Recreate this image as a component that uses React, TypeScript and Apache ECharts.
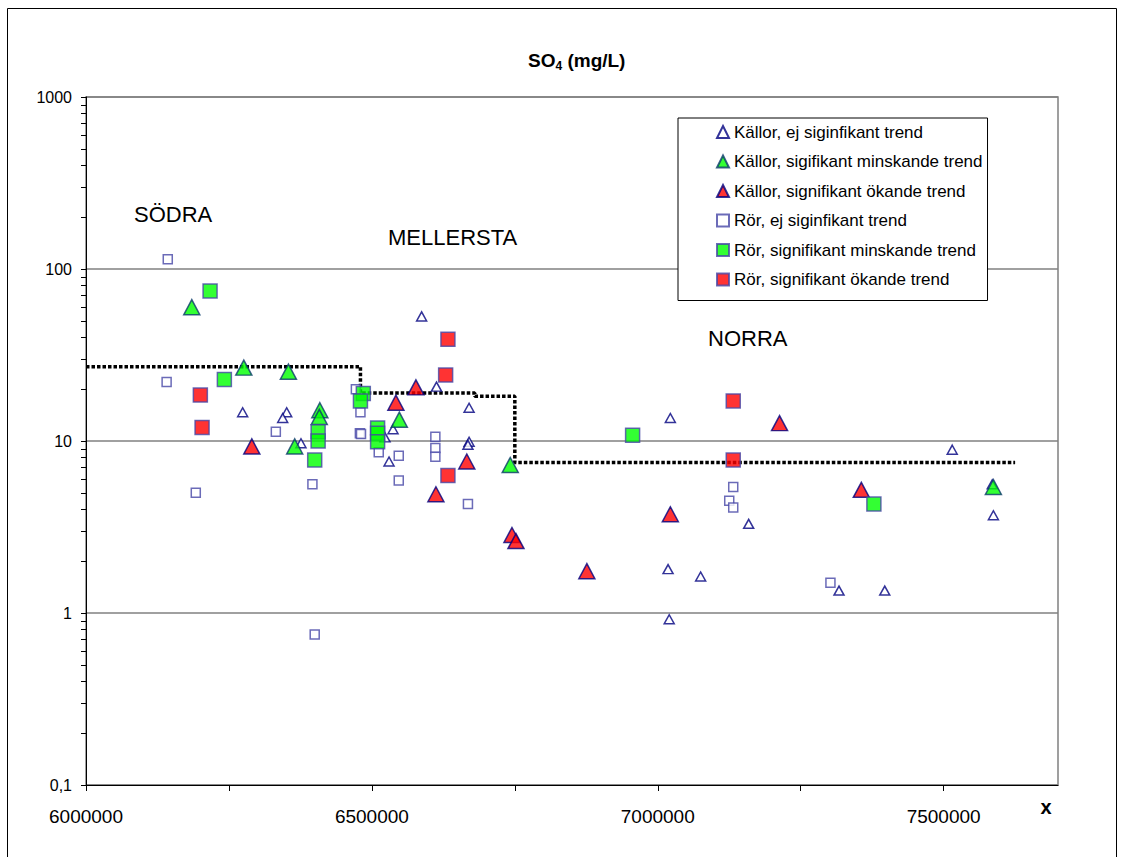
import React, { useEffect, useRef } from 'react';
import * as echarts from 'echarts';

const FONT = 'Arial, "Liberation Sans", sans-serif';

const seriesNames = [
  'Källor, ej siginfikant trend',
  'Källor, sigifikant minskande trend',
  'Källor, signifikant ökande trend',
  'Rör, ej siginfikant trend',
  'Rör, signifikant minskande trend',
  'Rör, signifikant ökande trend',
];

// [x coordinate, SO4 mg/L]
const kallorEj: [number, number][] = [
  [6274000, 14.7], [6351000, 14.7], [6344000, 13.6], [6376000, 9.7], [6523000, 10.5],
  [6537000, 11.7], [6530000, 7.6], [6587000, 53], [6613000, 20.7], [6670000, 15.6],
  [6670000, 9.9], [6668000, 9.5], [7022000, 13.6], [7018000, 1.8], [7020000, 0.92],
  [7075000, 1.63], [7159000, 3.3], [7317000, 1.35], [7397000, 1.35], [7515000, 8.9],
  [7587000, 3.7], [7585000, 5.6],
];
const kallorMinsk: [number, number][] = [
  [6185000, 60], [6276000, 26.7], [6354000, 25.3], [6365000, 9.3], [6409000, 15.1],
  [6408000, 13.8], [6548000, 13.3], [6742000, 7.25], [7587000, 5.4],
];
const kallorOk: [number, number][] = [
  [6290000, 9.3], [6542000, 16.7], [6577000, 20.5], [6612000, 4.9], [6666000, 7.6],
  [6745000, 2.84], [6752000, 2.62], [6876000, 1.75], [7022000, 3.75], [7213000, 12.7],
  [7356000, 5.2],
];
const rorEj: [number, number][] = [
  [6143000, 114], [6141000, 22], [6192000, 5.0], [6332000, 11.3], [6396000, 5.6],
  [6400000, 0.75], [6472000, 20], [6480000, 14.7], [6479000, 11.1], [6481000, 11.0],
  [6512000, 8.6], [6547000, 8.2], [6547000, 5.9], [6611000, 10.6], [6611000, 9.1],
  [6611000, 8.1], [6668000, 4.3], [7132000, 5.4], [7125000, 4.5], [7132000, 4.1],
  [7302000, 1.5],
];
const rorMinsk: [number, number][] = [
  [6217000, 74.5], [6242000, 22.8], [6406000, 11.3], [6406000, 10.0], [6400000, 7.75],
  [6485000, 18.9], [6480000, 17.1], [6510000, 11.9], [6510000, 11.1], [6510000, 9.9],
  [6956000, 10.8], [7378000, 4.3],
];
const rorOk: [number, number][] = [
  [6200000, 18.5], [6203000, 12.0], [6633000, 39], [6629000, 24.2], [6633000, 6.3],
  [7132000, 17.1], [7132000, 7.75],
];

// dotted regional median line
const trendX = [6000000, 6480000, 6480000, 6680000, 6680000, 6750000, 6750000, 7625000];
const trendY = [27, 27, 19, 19, 18.2, 18.2, 7.5, 7.5];

const xTickValues = [6000000, 6250000, 6500000, 6750000, 7000000, 7250000, 7500000];
const xLabelValues = [6000000, 6500000, 7000000, 7500000];
const yLabelValues = [0.1, 1, 10, 100, 1000];
const yTickValues: number[] = [];
[0.1, 1, 10, 100].forEach((d) => {
  for (let m = 1; m <= 9; m++) yTickValues.push(+(d * m).toPrecision(3));
});
yTickValues.push(1000);

const regionLabels = [
  { text: 'SÖDRA', x: 134, y: 214 },
  { text: 'MELLERSTA', x: 388, y: 237 },
  { text: 'NORRA', x: 708, y: 338 },
];

export default function App() {
  const ref = useRef<HTMLDivElement>(null);
  useEffect(() => {
    document.body.style.margin = '0';
    const chart = echarts.init(ref.current!, null, { renderer: 'svg' });
    const navy = '#000080';
    const sqStroke = '#4646a6';
    const option: any = {
      animation: false,
      backgroundColor: '#fff',
      title: {
        text: '{a|SO}{b|4}{a| (mg/L)}',
        left: 523,
        top: 43,
        textStyle: {
          rich: {
            a: { fontSize: 19, fontWeight: 'bold', fontFamily: FONT, color: '#000', lineHeight: 24 },
            b: { fontSize: 12, fontWeight: 'bold', fontFamily: FONT, color: '#000', verticalAlign: 'bottom', lineHeight: 18 },
          },
        },
      },
      legend: {
        orient: 'vertical',
        left: 678,
        top: 118,
        padding: [5, 5, 12, 38],
        itemGap: 11.5,
        itemWidth: 12,
        itemHeight: 12,
        borderColor: '#000',
        borderWidth: 1,
        backgroundColor: '#fff',
        textStyle: { fontSize: 17, fontFamily: FONT, color: '#000', lineHeight: 18 },
        data: seriesNames,
      },
      grid: {
        left: 86,
        right: 65,
        top: 97,
        bottom: 72,
        show: true,
        borderColor: '#808080',
        borderWidth: 1.5,
        backgroundColor: 'transparent',
      },
      xAxis: {
        type: 'value',
        min: 6000000,
        max: 7700000,
        interval: 250000,
        axisLine: { show: true, lineStyle: { color: '#000', width: 1 } },
        axisTick: { show: true, length: 6, lineStyle: { color: '#000' }, customValues: xTickValues },
        axisLabel: {
          customValues: xLabelValues,
          formatter: (v: number) => (v % 500000 === 0 ? String(v) : ''),
          fontSize: 19,
          fontFamily: FONT,
          color: '#000',
          margin: 22,
        },
        splitLine: { show: false },
        name: 'x',
        nameLocation: 'end',
        nameGap: -12,
        nameTextStyle: {
          fontSize: 20,
          fontWeight: 'bold',
          fontFamily: FONT,
          color: '#000',
          align: 'center',
          verticalAlign: 'top',
          padding: [12, 0, 0, 0],
        },
      },
      yAxis: [
        {
          type: 'log',
          logBase: 10,
          min: 0.1,
          max: 1000,
          axisLine: { show: true, lineStyle: { color: '#000', width: 1 } },
          axisTick: { show: true, length: 5, lineStyle: { color: '#000' }, customValues: yTickValues },
          axisLabel: {
            customValues: yLabelValues,
            formatter: (v: number) => (v < 1 ? String(v).replace('.', ',') : String(v)),
            fontSize: 16,
            fontFamily: FONT,
            color: '#000',
            margin: 14,
          },
          splitLine: { show: false },
        },
        {
          type: 'log',
          logBase: 10,
          min: 0.1,
          max: 1000,
          position: 'left',
          axisLine: { show: false },
          axisTick: { show: false },
          axisLabel: { show: false },
          splitLine: { show: true, lineStyle: { color: '#808080', width: 1.5 } },
        },
      ],
      graphic: [
        {
          type: 'rect',
          silent: true,
          z: -10,
          shape: { x: 7.5, y: 8.5, width: 1109, height: 900 },
          style: { fill: 'none', stroke: '#000', lineWidth: 1 },
        },
        ...regionLabels.map((r) => ({
          type: 'text',
          x: r.x,
          y: r.y,
          silent: true,
          style: { text: r.text, fontSize: 22, fontFamily: FONT, fill: '#000', align: 'left', verticalAlign: 'middle' },
        })),
      ],
      series: [
        {
          type: 'line',
          name: 'trend',
          data: trendX.map((x, i) => [x, trendY[i]]),
          symbol: 'none',
          silent: true,
          z: 1,
          lineStyle: { color: '#000', width: 3.5, type: [3.5, 2], cap: 'butt' },
        },
        {
          type: 'scatter', name: seriesNames[0], data: kallorEj, symbol: 'triangle', symbolSize: [10, 9], z: 2,
          itemStyle: { color: '#fff', borderColor: navy, borderWidth: 1.5 },
        },
        {
          type: 'scatter', name: seriesNames[1], data: kallorMinsk, symbol: 'triangle', symbolSize: [16, 15], z: 2,
          itemStyle: { color: '#00ff00', borderColor: '#0a3a6a', borderWidth: 1.5 },
        },
        {
          type: 'scatter', name: seriesNames[2], data: kallorOk, symbol: 'triangle', symbolSize: [16, 15], z: 2,
          itemStyle: { color: '#ff0000', borderColor: navy, borderWidth: 1.5 },
        },
        {
          type: 'scatter', name: seriesNames[3], data: rorEj, symbol: 'rect', symbolSize: 9, z: 2,
          itemStyle: { color: '#fff', borderColor: sqStroke, borderWidth: 1.5 },
        },
        {
          type: 'scatter', name: seriesNames[4], data: rorMinsk, symbol: 'rect', symbolSize: 14, z: 2,
          itemStyle: { color: '#00ff00', borderColor: sqStroke, borderWidth: 1.5 },
        },
        {
          type: 'scatter', name: seriesNames[5], data: rorOk, symbol: 'rect', symbolSize: 14, z: 2,
          itemStyle: { color: '#ff0000', borderColor: sqStroke, borderWidth: 1.5 },
        },
      ],
    };
    chart.setOption(option);
    return () => chart.dispose();
  }, []);
  return <div ref={ref} style={{ width: 1123, height: 857, background: '#fff' }} />;
}
